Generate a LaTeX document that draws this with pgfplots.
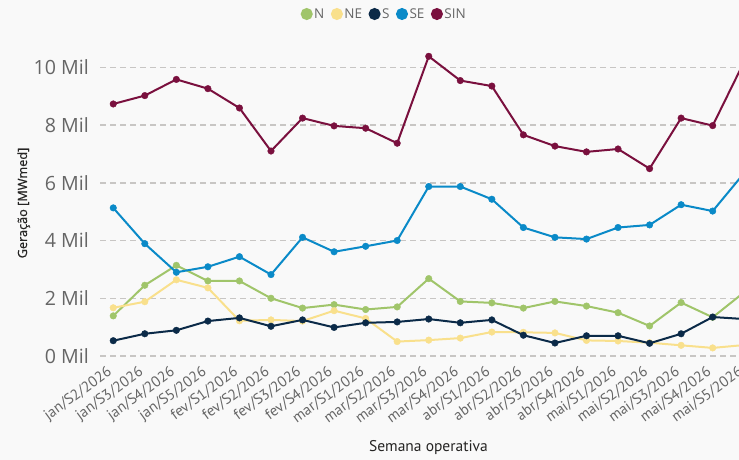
\documentclass[border=0pt]{standalone}
\usepackage{pgfplots}
\pgfplotsset{compat=1.18}
\usepackage{fontspec}
\setmainfont{Open Sans}
\newfontfamily\dinfont{PT Sans}
\definecolor{cN}{HTML}{A0C56A}
\definecolor{cNE}{HTML}{F9E08C}
\definecolor{cS}{HTML}{0B2A48}
\definecolor{cSE}{HTML}{0A8AC8}
\definecolor{cSIN}{HTML}{7A103E}
\definecolor{bgc}{HTML}{F9F9F9}
\definecolor{gridc}{HTML}{C8C6C4}
\definecolor{tickc}{HTML}{666666}
\definecolor{titc}{HTML}{252423}

\pgfplotstableread{
x N NE S SE SIN
0 1.39 1.67 0.53 5.13 8.73
1 2.45 1.88 0.77 3.89 9.02
2 3.14 2.64 0.89 2.90 9.58
3 2.60 2.36 1.21 3.09 9.26
4 2.60 1.22 1.32 3.44 8.59
5 2.00 1.25 1.03 2.82 7.10
6 1.66 1.21 1.25 4.11 8.24
7 1.78 1.57 0.99 3.61 7.97
8 1.61 1.30 1.15 3.80 7.89
9 1.70 0.50 1.18 4.00 7.37
10 2.68 0.55 1.28 5.87 10.38
11 1.89 0.62 1.15 5.87 9.54
12 1.84 0.83 1.25 5.43 9.35
13 1.66 0.82 0.72 4.45 7.66
14 1.89 0.80 0.45 4.11 7.27
15 1.73 0.54 0.70 4.05 7.07
16 1.50 0.52 0.70 4.45 7.17
17 1.04 0.46 0.44 4.54 6.49
18 1.85 0.37 0.77 5.24 8.24
19 1.34 0.28 1.35 5.02 7.98
20 2.21 0.38 1.28 6.34 10.20
}\datatable

\begin{document}
\begin{tikzpicture}
\useasboundingbox (0pt,0pt) rectangle (739pt,460pt);
\clip (0pt,0pt) rectangle (739pt,460pt);
\fill[bgc] (0pt,0pt) rectangle (739pt,460pt);
\node[rotate=90, anchor=base, text=titc, inner sep=0pt] at (27pt,257pt) {\fontsize{12.7}{15}\selectfont\addfontfeature{FakeBold=0.4}Geração [MWmed]};
\begin{axis}[
  at={(100pt,104pt)}, anchor=south west,
  scale only axis, width=660pt, height=311.8pt,
  xmin=-0.42, xmax=20.5, ymin=0, ymax=10.8,
  axis line style={draw=none}, major tick style={draw=none},
  ytick={0,2,4,6,8,10},
  yticklabels={0 Mil,2 Mil,4 Mil,6 Mil,8 Mil,10 Mil},
  yticklabel style={anchor=east, inner sep=0pt, xshift=-11pt, font=\fontsize{19.6}{22}\selectfont, text=tickc},
  ymajorgrids, grid style={dash pattern=on 6pt off 4pt, line width=1.5pt, color=gridc},
  xtick={0,...,20},
  xticklabels={jan/S2/2026,jan/S3/2026,jan/S4/2026,jan/S5/2026,fev/S1/2026,fev/S2/2026,fev/S3/2026,fev/S4/2026,mar/S1/2026,mar/S2/2026,mar/S3/2026,mar/S4/2026,abr/S1/2026,abr/S2/2026,abr/S3/2026,abr/S4/2026,mai/S1/2026,mai/S2/2026,mai/S3/2026,mai/S4/2026,mai/S5/2026},
  xticklabel style={xshift=-7pt, yshift=-9pt, rotate=36, anchor=north east, inner sep=0pt, font=\dinfont\fontsize{15}{17}\selectfont, text=tickc},
  xlabel={Semana operativa},
  xlabel style={at={(axis description cs:0.5,0)}, anchor=base, yshift=-95.5pt, xshift=-1.5pt, font=\dinfont\fontsize{15.5}{18}\selectfont, text=titc},
  legend columns=-1,
  legend style={at={(axis description cs:0.4303,1.0968)}, anchor=center, draw=none, fill=none,
    font=\fontsize{13.5}{16}\selectfont, text=tickc,
    /tikz/every even column/.append style={column sep=5pt},
    nodes={inner xsep=1.5pt, inner ysep=1pt}},
  legend image code/.code={\fill (5pt,0pt) circle (5pt);},
  every axis plot/.append style={line width=2pt, mark=*, mark size=3.3pt, mark options={solid, line width=0.4pt}},
  clip marker paths=true,
]
\addplot[color=cN] table[x=x, y=N] {\datatable};
\addlegendentry{N}
\addplot[color=cNE] table[x=x, y=NE] {\datatable};
\addlegendentry{NE}
\addplot[color=cS] table[x=x, y=S] {\datatable};
\addlegendentry{S}
\addplot[color=cSE] table[x=x, y=SE] {\datatable};
\addlegendentry{SE}
\addplot[color=cSIN] table[x=x, y=SIN] {\datatable};
\addlegendentry{SIN}
\end{axis}
\useasboundingbox (0pt,0pt) rectangle (739pt,460pt);
\end{tikzpicture}
\end{document}
